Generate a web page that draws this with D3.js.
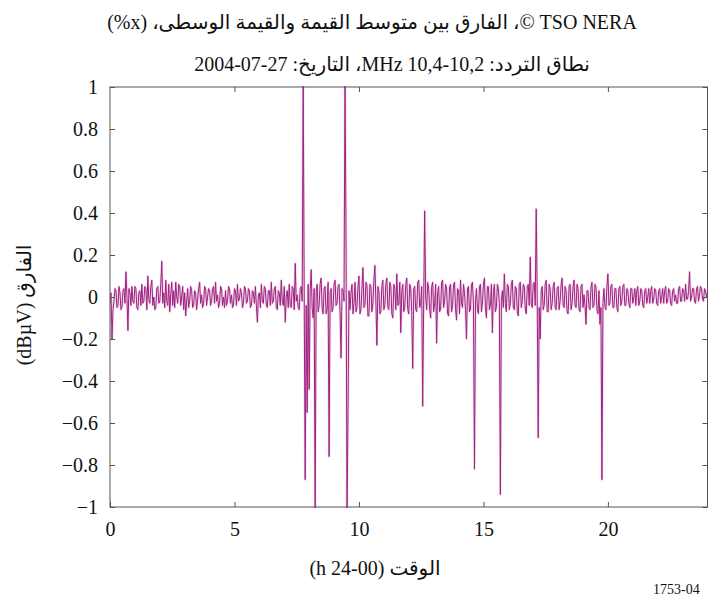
<!DOCTYPE html>
<html>
<head>
<meta charset="utf-8">
<script src="https://cdn.jsdelivr.net/npm/d3@7"></script>
<style>
  html, body { margin: 0; padding: 0; background: #fff; }
  svg { display: block; }
  text { font-family: "Liberation Serif", "DejaVu Serif", "DejaVu Sans", serif; fill: #111; }
</style>
</head>
<body>
<svg id="chart" width="708" height="603"></svg>
<script>
// ---- data ----
const titleLine1 = "TSO NERA ©، الفارق بين متوسط القيمة والقيمة الوسطى، (x%)";
const titleLine2 = "نطاق التردد: 10,2-10,4 MHz، التاريخ: 27-07-2004";
const xLabel = "الوقت (00-24 h)";
const yLabel = "الفارق (dBµV)";
const figId = "1753-04";
const xTicks = [0, 5, 10, 15, 20];
const yTicks = [-1, -0.8, -0.6, -0.4, -0.2, 0, 0.2, 0.4, 0.6, 0.8, 1];
const stepHours = 0.04; // sampling interval of the series (hours)
const diffValues = [
  -0.03, 0.02, -0.2, -0.06, -0.02, 0.04, 0.03, -0.05, -0.04, 0.05, 0.02, -0.06, -0.05, 0.03, 0.04, -0.03, 0.12, 0.0, -0.16, 0.04,
  0.02, -0.04, 0.05, -0.02, -0.03, 0.05, 0.04, -0.05, -0.06, 0.02, 0.03, -0.04, 0.06, -0.03, -0.02, 0.05, 0.04, -0.06, 0.1, -0.01,
  -0.03, 0.05, 0.08, -0.04, 0.0, -0.06, -0.05, 0.04, 0.05, -0.03, -0.02, 0.06, 0.17, -0.03, 0.02, -0.05, 0.08, -0.02, -0.04, 0.06,
  -0.07, 0.01, 0.07, -0.04, 0.03, -0.05, 0.07, 0.0, -0.03, 0.06, 0.05, -0.04, 0.0, 0.05, -0.06, 0.02, -0.09, -0.02, 0.04, -0.05,
  -0.02, 0.05, 0.03, -0.05, -0.04, 0.03, 0.02, -0.06, -0.01, 0.04, 0.07, -0.03, 0.01, -0.05, -0.03, 0.05, 0.04, -0.04, 0.0, 0.04,
  0.03, -0.04, -0.02, 0.04, 0.05, -0.03, 0.07, -0.02, 0.01, -0.05, -0.03, 0.05, 0.04, -0.04, 0.0, -0.05, 0.03, -0.04, -0.02, 0.05,
  0.04, -0.03, 0.01, -0.05, -0.04, 0.04, 0.03, -0.04, 0.06, -0.02, -0.01, 0.04, 0.02, -0.05, -0.03, 0.05, 0.04, -0.03, -0.02, 0.04,
  0.03, -0.05, -0.04, 0.03, 0.02, -0.03, 0.05, -0.04, -0.12, 0.01, 0.02, -0.05, 0.06, -0.02, -0.03, 0.05, 0.04, -0.04, -0.05, 0.03,
  0.03, -0.04, 0.07, -0.03, -0.02, 0.04, 0.05, -0.05, -0.06, 0.03, 0.02, -0.04, 0.08, -0.02, -0.04, 0.05, -0.12, 0.0, 0.03, -0.05,
  0.06, -0.04, -0.05, 0.05, 0.04, -0.06, 0.16, -0.02, 0.01, -0.05, -0.06, 0.04, 0.05, -0.02, 1.05, 0.02, -0.87, -0.04, -0.55, 0.06,
  -0.44, 0.03, 0.13, -0.05, -0.1, 0.04, -1.05, 0.02, 0.06, -0.07, -0.04, 0.06, 0.09, -0.05, -0.08, 0.04, 0.05, -0.08, -0.06, 0.07,
  -0.76, 0.02, 0.04, -0.07, -0.05, 0.06, 0.08, -0.04, -0.03, 0.05, 0.06, -0.07, -0.29, 0.04, 0.03, -0.02, 1.05, 0.3, -1.05, -0.55,
  0.03, -0.06, 0.02, 0.06, -0.08, -0.03, 0.07, -0.07, -0.05, 0.05, 0.1, -0.08, -0.06, 0.04, 0.14, -0.05, -0.04, 0.07, 0.06, -0.09,
  -0.09, 0.06, 0.05, -0.07, -0.03, 0.08, 0.15, -0.02, -0.23, 0.05, 0.03, -0.08, -0.07, 0.05, 0.08, -0.06, -0.04, 0.06, 0.09, -0.05,
  -0.06, 0.07, 0.05, -0.08, -0.1, 0.06, 0.04, -0.06, 0.11, -0.04, -0.03, 0.07, -0.17, 0.03, 0.06, -0.07, -0.05, 0.06, 0.09, -0.06,
  -0.08, 0.06, 0.04, -0.07, -0.34, 0.04, 0.05, -0.06, -0.07, 0.07, 0.08, -0.05, -0.03, 0.05, -0.52, -0.02, 0.41, 0.0, -0.06, 0.07,
  0.04, -0.06, -0.1, 0.05, 0.07, -0.07, -0.03, 0.06, -0.22, 0.02, 0.05, -0.07, -0.06, 0.07, 0.08, -0.05, -0.02, 0.06, 0.04, -0.08,
  -0.09, 0.05, 0.06, -0.07, -0.04, 0.06, 0.07, -0.06, -0.11, 0.04, 0.03, -0.08, 0.08, -0.03, -0.05, 0.06, 0.02, -0.06, -0.2, 0.04,
  0.05, -0.07, -0.06, 0.06, 0.07, -0.04, -0.82, -0.02, 0.04, -0.06, -0.08, 0.05, 0.06, -0.07, -0.03, 0.06, 0.09, -0.05, -0.1, 0.05,
  0.05, -0.06, -0.04, 0.06, -0.17, 0.02, 0.06, -0.07, -0.05, 0.06, 0.04, -0.03, -0.94, -0.02, 0.03, -0.05, 0.11, -0.03, -0.07, 0.06,
  0.05, -0.06, -0.03, 0.06, 0.08, -0.05, -0.06, 0.05, 0.04, -0.07, -0.09, 0.06, 0.07, -0.05, -0.02, 0.06, 0.05, -0.06, -0.08, 0.05,
  0.06, -0.04, 0.19, -0.03, -0.05, 0.06, 0.07, -0.04, 0.42, 0.0, -0.67, -0.05, -0.2, 0.03, 0.05, -0.06, -0.04, 0.06, 0.08, -0.07,
  -0.07, 0.06, 0.04, -0.06, -0.03, 0.05, 0.07, -0.05, -0.06, 0.04, 0.05, -0.06, -0.02, 0.06, 0.09, -0.04, -0.05, 0.05, 0.03, -0.07,
  -0.08, 0.05, 0.06, -0.06, -0.03, 0.05, 0.08, -0.04, -0.05, 0.06, 0.04, -0.06, -0.07, 0.05, 0.06, -0.05, 0.01, -0.04, -0.13, 0.03,
  0.03, -0.05, -0.06, 0.05, 0.07, -0.05, -0.04, 0.06, 0.05, -0.06, -0.08, 0.03, -0.13, -0.05, -0.87, -0.03, 0.04, -0.05, -0.06, 0.05,
  0.11, -0.04, -0.03, 0.05, 0.06, -0.05, -0.05, 0.04, 0.04, -0.05, -0.07, 0.04, 0.05, -0.04, -0.02, 0.05, 0.06, -0.04, -0.04, 0.04,
  0.03, -0.03, -0.05, 0.04, 0.04, -0.03, 0.0, 0.04, -0.04, 0.03, 0.05, -0.04, -0.02, 0.04, 0.03, -0.04, -0.05, 0.03, 0.04, -0.03,
  0.0, 0.04, -0.03, 0.03, 0.05, -0.03, -0.01, 0.04, 0.03, -0.03, -0.04, 0.03, 0.04, -0.03, 0.0, 0.04, -0.03, 0.03, 0.05, -0.03,
  -0.02, 0.04, 0.03, -0.03, -0.04, 0.03, 0.04, -0.02, 0.01, -0.03, -0.03, 0.04, 0.05, -0.02, -0.02, 0.04, 0.03, -0.02, 0.06, -0.01,
  -0.01, 0.03, 0.12, -0.02, 0.0, 0.04, 0.04, -0.02, -0.03, 0.04, 0.05, -0.02, 0.01, 0.05, 0.04, -0.01, -0.02, 0.04, 0.03, 0.0,
  0.02
];

// ---- layout ----
const margin = { left: 110, right: 0.5, top: 87, bottom: 96 };
const W = 708, H = 603;
const svg = d3.select("#chart");

const x = d3.scaleLinear().domain([0, 24]).range([margin.left, W - margin.right]);
const y = d3.scaleLinear().domain([-1, 1]).range([H - margin.bottom, margin.top]);

const series = diffValues.map((v, i) => ({ t: i * stepHours, v }));

svg.append("defs").append("clipPath").attr("id", "plotclip")
  .append("rect")
  .attr("x", x(0)).attr("y", y(1) - 1)
  .attr("width", x(24) - x(0)).attr("height", y(-1) - y(1) + 2);

const line = d3.line().x(d => x(d.t)).y(d => y(d.v));

const g = svg.append("g").attr("clip-path", "url(#plotclip)");
g.append("path").datum(series)
  .attr("d", line)
  .attr("fill", "none")
  .attr("stroke", "#e6bfdc")
  .attr("stroke-width", 2.6)
  .attr("stroke-opacity", 0.5)
  .attr("stroke-linejoin", "round");
g.append("path").datum(series)
  .attr("d", line)
  .attr("fill", "none")
  .attr("stroke", "#a01f80")
  .attr("stroke-width", 1)
  .attr("stroke-linejoin", "round");

// ---- axes ----
const axisColor = "#555";
function styleAxis(sel) {
  sel.select(".domain").remove();
  sel.selectAll(".tick line").attr("stroke", axisColor);
  sel.selectAll(".tick text")
    .style("font-family", '"Liberation Serif", serif')
    .style("font-size", "20px")
    .attr("fill", "#111");
}

svg.append("g")
  .attr("transform", `translate(0,${y(-1)})`)
  .call(d3.axisBottom(x).tickValues(xTicks).tickSizeInner(-5).tickSizeOuter(0).tickPadding(15).tickFormat(d3.format("d")))
  .call(styleAxis);

svg.append("g")
  .attr("transform", `translate(0,${y(1)})`)
  .call(d3.axisTop(x).tickValues(xTicks.filter(d => d > 0)).tickSizeInner(-5).tickSizeOuter(0).tickFormat(""))
  .call(styleAxis);

svg.append("g")
  .attr("transform", `translate(${x(0)},0)`)
  .call(d3.axisLeft(y).tickValues(yTicks).tickSizeInner(-5).tickSizeOuter(0).tickPadding(12)
    .tickFormat(d => d === 0 ? "0" : String(+d.toFixed(1)).replace("-", "\u2212")))
  .call(styleAxis);

svg.append("g")
  .attr("transform", `translate(${x(24)},0)`)
  .call(d3.axisRight(y).tickValues(yTicks).tickSizeInner(-5).tickSizeOuter(0).tickFormat(""))
  .call(styleAxis);

// frame
svg.append("rect")
  .attr("x", x(0)).attr("y", y(1))
  .attr("width", x(24) - x(0)).attr("height", y(-1) - y(1))
  .attr("fill", "none").attr("stroke", axisColor).attr("stroke-width", 1);

// ---- texts ----
svg.append("text")
  .attr("x", 372).attr("y", 29)
  .attr("text-anchor", "middle")
  .attr("direction", "rtl")
  .style("font-size", "20px")
  .text(titleLine1);

svg.append("text")
  .attr("x", 392).attr("y", 71)
  .attr("text-anchor", "middle")
  .attr("direction", "rtl")
  .style("font-size", "20px")
  .text(titleLine2);

svg.append("text")
  .attr("x", 375).attr("y", 575)
  .attr("text-anchor", "middle")
  .attr("direction", "rtl")
  .style("font-size", "20px")
  .text(xLabel);

svg.append("text")
  .attr("transform", `translate(31,305) rotate(-90)`)
  .attr("text-anchor", "middle")
  .attr("direction", "rtl")
  .style("font-size", "20px")
  .text(yLabel);

svg.append("text")
  .attr("x", 653).attr("y", 594)
  .style("font-size", "14px")
  .text(figId);
</script>
</body>
</html>
